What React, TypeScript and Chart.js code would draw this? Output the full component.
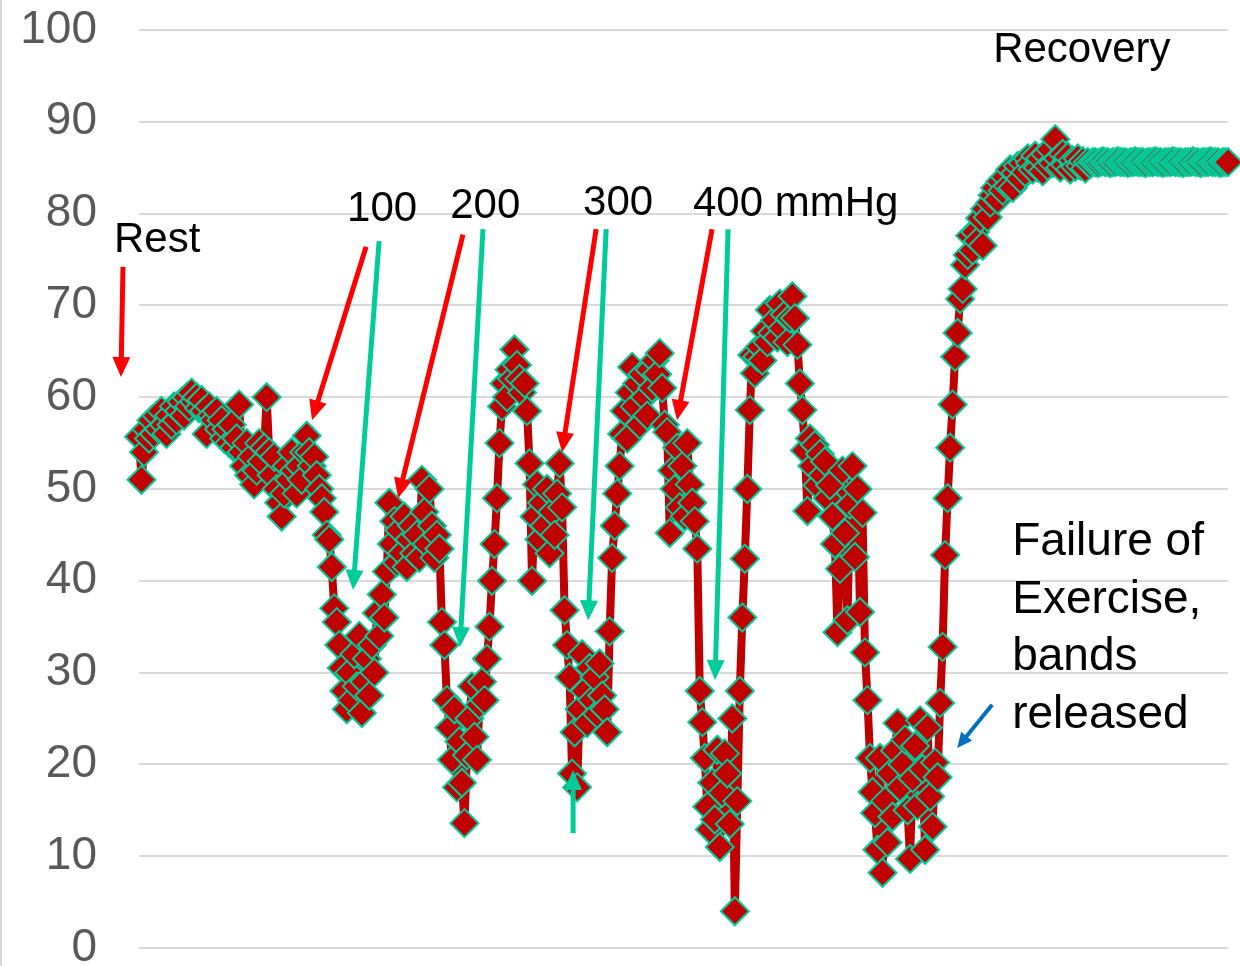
import React, { useEffect, useRef } from "react";
import { Chart, registerables } from "chart.js";

Chart.register(...registerables);

// ---- Data (percent values, in sample order) ----
const restValues = [
  55.7, 51, 54, 56.5, 55.5, 57.5, 56, 58, 56.5, 58.5,
  57, 56, 58, 57, 59, 57.5, 58.5, 59.5, 58, 60,
  59, 60.5, 59.5, 60, 58.8, 59.7, 58.5, 56, 59, 58,
  57.5, 58.5, 56.5, 57.5, 55.5, 56.5, 55, 57, 54.5, 55.5,
  59.2, 54, 52.5, 55, 51.5, 53.5, 50.5, 52, 55, 53,
  54.5, 60, 54, 51.5, 53.5, 50, 48.5, 47, 49.5, 52.5,
  51, 54, 52, 49.5, 52.5, 51, 54, 55.8, 54, 52.5,
  53.5, 51.5, 50, 49, 47.5, 45, 44.5, 41.5, 37, 35.5,
  33, 30.5, 28,
];
const cuff100Values = [
  26, 30, 27, 32, 28.5, 34, 25.6, 29, 31.5, 27.5,
  33, 30, 36.5, 34, 38.5, 36, 41, 48.5, 44, 46.5,
  42, 45.5, 43, 47, 41.5, 44.5, 46, 43, 45, 42.5,
  51, 47.5, 44, 50, 46, 42.5, 45, 43.5, 35.5,
];
const cuff200Values = [
  33, 27, 24, 20.5, 26, 17.5, 22.5, 18, 13.6, 21,
  25, 28.5, 23, 20.5, 26.5, 29, 27, 31.5,
];
const between200And300Values = [
  35, 40, 44, 49, 55, 59, 61.5, 60, 63, 62,
  65.2, 63.5, 62, 60.5, 61.5, 58.5, 52.8, 40, 47, 50.5,
  44.5, 48.5, 46, 50, 43, 47.5, 45, 49.5, 52.8, 48,
  36.8, 33, 29.5,
];
const cuff300Values = [
  19, 23.5, 17.5, 26, 32, 28, 24.5, 30.5, 27, 29.5,
  25.5, 31, 27.5, 26, 23.5, 34.5, 42.5, 46, 49.5, 52.5,
  56, 58.5,
];
const between300And400Values = [
  55.5, 60.5, 63.3, 59, 61.5, 57, 62.5, 60, 58, 63,
  61, 64, 62.5, 64.8, 61, 57, 56.2, 45.2, 52, 50,
  54.5, 48, 52.5, 47, 55, 50.5, 48.5, 46.5, 43.5,
];
const cuff400Values = [
  28, 24.6, 20.7, 15.4, 12.9, 18, 14, 21.6, 11, 16.9,
  21.2, 19, 13.5, 25, 4, 16, 28, 36, 42.4, 50,
];
const secondPeakValues = [
  58.6, 64.6, 62.6, 64.4, 65.5, 64, 67.2, 66, 69.5, 67,
  68.4, 66.5, 70.2, 67.5, 69, 66, 68.6, 71, 68.6, 65.7,
  61.5, 58.6, 54.2, 47.6, 55.5, 52.5, 54.8, 50.4, 53.8, 51.5,
  53, 49, 50.4, 47, 44, 34.4, 41.3, 52, 45.2, 35.7,
  48.3, 52.5, 42.6, 50, 36.6, 47.4, 32.2, 27,
];
const failureValues = [
  20.7, 17, 14.7, 10.7, 20.7, 8.2, 16, 11.5, 19, 14.3,
  21.5, 24.5, 17.5, 20, 22.7, 15, 9.7, 18.5, 22, 15.5,
  24.8, 19.5, 10.7, 24, 16.5, 13.2, 20.2, 18.6, 26.7,
];
const releaseValues = [
  32.8, 42.8, 49, 54.5, 59.2, 64.4, 67, 70.7, 71.8, 74.4,
  75.5, 77.6, 76, 78, 77, 79.5, 76.5, 80.5, 79.6, 81.2,
  82, 82.8, 81.5, 83.5, 82.5, 84, 83, 84.8, 82.8, 84.4,
  85.2, 83.8, 85.5, 84.5, 86, 85.5, 84.8, 86.3, 85, 86,
  84.6, 86.5, 85.2, 87, 85.5, 88.1, 86, 85, 86.5, 85.3,
  86.2, 84.8, 85.8, 85.1, 86, 85.2, 85.7, 84.9, 85.6, 85.4,
];
const recoveryValues = [
  85.6, 85.6, 85.5, 85.6, 85.7, 85.6, 85.6, 85.5, 85.6, 85.6,
  85.7, 85.6, 85.6, 85.6, 85.5, 85.6, 85.6, 85.7, 85.6, 85.6,
  85.6, 85.5, 85.6, 85.6, 85.6, 85.7, 85.6, 85.6, 85.5, 85.6,
  85.6, 85.6, 85.7, 85.6, 85.6, 85.6, 85.5, 85.6, 85.6, 85.6,
  85.7, 85.6, 85.6, 85.5, 85.6, 85.6, 85.6, 85.7, 85.6, 85.6,
  85.6, 85.5, 85.6, 85.6, 85.6,
];

const series = [
  ...restValues,
  ...cuff100Values,
  ...cuff200Values,
  ...between200And300Values,
  ...cuff300Values,
  ...between300And400Values,
  ...cuff400Values,
  ...secondPeakValues,
  ...failureValues,
  ...releaseValues,
  ...recoveryValues,
];
const sampleLabels = series.map((_, i) => String(i));

const Y_MIN = 0;
const Y_MAX = 100;
const Y_STEP = 10;

// ---- Annotations (positions in data units: x = sample index, y = value) ----
const RED = "#FF0000";
const TEAL = "#00CC99";
const BLUE = "#0070C0";
const FONT = "'Liberation Sans', Arial, Helvetica, sans-serif";

const annotationTexts = [
  { text: "Rest", x: -10.0, y: 75.8, size: 42 },
  { text: "100", x: 83.1, y: 79.2, size: 42 },
  { text: "200", x: 124.3, y: 79.5, size: 42 },
  { text: "300", x: 177.4, y: 79.8, size: 42 },
  { text: "400 mmHg", x: 221.3, y: 79.7, size: 42 },
  { text: "Recovery", x: 341.2, y: 96.5, size: 42 },
  { text: "Failure of", x: 348.8, y: 42.8, size: 46 },
  { text: "Exercise,", x: 348.8, y: 36.5, size: 46 },
  { text: "bands", x: 348.8, y: 30.3, size: 46 },
  { text: "released", x: 348.8, y: 24.0, size: 46 },
];

const annotationArrows = [
  { from: [-6.4, 74.2], to: [-7.2, 62.2], color: RED, width: 5, head: 20, half: 9 },
  { from: [90.7, 76.4], to: [69.1, 57.5], color: RED, width: 5, head: 20, half: 9 },
  { from: [129.4, 77.7], to: [103.5, 49.0], color: RED, width: 5, head: 20, half: 9 },
  { from: [182.6, 78.3], to: [169.0, 54.0], color: RED, width: 5, head: 20, half: 9 },
  { from: [228.9, 78.3], to: [214.9, 57.5], color: RED, width: 5, head: 20, half: 9 },
  { from: [95.9, 77.0], to: [85.5, 39.0], color: TEAL, width: 5, head: 20, half: 9 },
  { from: [137.4, 78.3], to: [128.2, 32.8], color: TEAL, width: 5, head: 20, half: 9 },
  { from: [186.6, 78.3], to: [179.4, 35.7], color: TEAL, width: 5, head: 20, half: 9 },
  { from: [235.3, 78.3], to: [230.1, 29.2], color: TEAL, width: 5, head: 20, half: 9 },
  { from: [173.4, 12.5], to: [173.4, 19.4], color: TEAL, width: 5, head: 20, half: 9 },
  { from: [340.8, 26.5], to: [326.8, 21.8], color: BLUE, width: 4, head: 15, half: 7 },
];

const annotationPlugin = {
  id: "annotationsOverlay",
  afterDraw(chart: any) {
    const { ctx, scales } = chart;
    const xs = scales.x;
    const ys = scales.y;
    ctx.save();
    // left frame edge
    ctx.fillStyle = "#D9D9D9";
    ctx.fillRect(0, 0, 2, chart.height);

    for (const a of annotationArrows) {
      const x1 = xs.getPixelForValue(a.from[0]);
      const y1 = ys.getPixelForValue(a.from[1]);
      const x2 = xs.getPixelForValue(a.to[0]);
      const y2 = ys.getPixelForValue(a.to[1]);
      const ang = Math.atan2(y2 - y1, x2 - x1);
      const bx = x2 - Math.cos(ang) * a.head;
      const by = y2 - Math.sin(ang) * a.head;
      ctx.strokeStyle = a.color;
      ctx.lineWidth = a.width;
      ctx.lineCap = "butt";
      ctx.beginPath();
      ctx.moveTo(x1, y1);
      ctx.lineTo(bx + Math.cos(ang) * 2, by + Math.sin(ang) * 2);
      ctx.stroke();
      ctx.fillStyle = a.color;
      ctx.beginPath();
      ctx.moveTo(x2, y2);
      ctx.lineTo(bx + Math.sin(ang) * a.half, by - Math.cos(ang) * a.half);
      ctx.lineTo(bx - Math.sin(ang) * a.half, by + Math.cos(ang) * a.half);
      ctx.closePath();
      ctx.fill();
    }

    ctx.fillStyle = "#000000";
    ctx.textAlign = "left";
    ctx.textBaseline = "alphabetic";
    for (const t of annotationTexts) {
      ctx.font = `${t.size}px ${FONT}`;
      ctx.fillText(t.text, xs.getPixelForValue(t.x), ys.getPixelForValue(t.y));
    }
    ctx.restore();
  },
};

export default function App() {
  const canvasRef = useRef<HTMLCanvasElement | null>(null);

  useEffect(() => {
    if (!canvasRef.current) return;
    const chart = new Chart(canvasRef.current, {
      type: "line",
      data: {
        labels: sampleLabels,
        datasets: [
          {
            data: series,
            borderColor: "#C00000",
            borderWidth: 8,
            borderJoinStyle: "round",
            borderCapStyle: "round",
            tension: 0,
            pointStyle: "rectRot",
            pointRadius: 14,
            pointBackgroundColor: "#C00000",
            pointBorderColor: TEAL,
            pointBorderWidth: 2,
            clip: false as any,
          },
        ],
      },
      options: {
        responsive: false,
        animation: false,
        events: [],
        layout: { autoPadding: false, padding: { left: 20, right: 12, top: 30, bottom: 18 } },
        plugins: {
          legend: { display: false },
          tooltip: { enabled: false },
        },
        scales: {
          x: { display: false },
          y: {
            min: Y_MIN,
            max: Y_MAX,
            ticks: {
              stepSize: Y_STEP,
              color: "#595959",
              padding: 42,
              font: { family: FONT, size: 46, lineHeight: 0.7 },
            },
            grid: { color: "#D9D9D9", lineWidth: 2, drawTicks: false },
            border: { display: false },
            afterFit: (scale: any) => {
              scale.width = 119;
              scale.paddingTop = 0;
              scale.paddingBottom = 0;
            },
          },
        },
      },
      plugins: [annotationPlugin],
    });
    return () => chart.destroy();
  }, []);

  return (
    <div style={{ position: "fixed", left: 0, top: 0, width: 1240, height: 966, background: "#fff" }}>
      <canvas ref={canvasRef} width={1240} height={966} style={{ display: "block" }} />
    </div>
  );
}
